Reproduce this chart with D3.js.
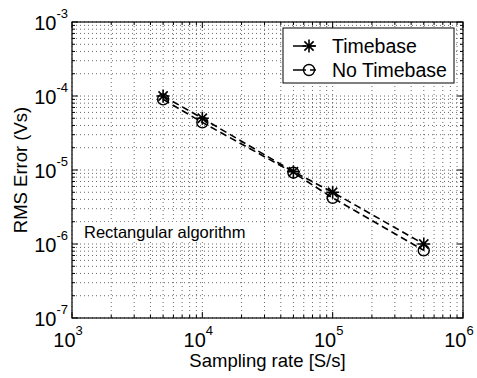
<!DOCTYPE html>
<html>
<head>
<meta charset="utf-8">
<script src="https://cdn.jsdelivr.net/npm/d3@7"></script>
<style>
  body { margin: 0; background: #fff; }
  svg text { font-family: "Liberation Sans", Arial, sans-serif; fill: #000; }
</style>
</head>
<body>
<svg id="chart" width="477" height="378"></svg>
<script>
// data
const rates = [5e3, 1e4, 5e4, 1e5, 5e5];
const timebase = [1.0e-4, 5.0e-5, 9.5e-6, 5.0e-6, 1.0e-6];
const noTimebase = [9.0e-5, 4.4e-5, 9.2e-6, 4.2e-6, 8.2e-7];
const xTickExps = [3, 4, 5, 6];
const yTickExps = [-3, -4, -5, -6, -7];
const seriesNames = ['Timebase', 'No Timebase'];

const margin = { top: 22, right: 14, bottom: 60, left: 72 };
const W = 477, H = 378;
const width = W - margin.left - margin.right;
const height = H - margin.top - margin.bottom;

const svg = d3.select('#chart');
const g = svg.append('g').attr('transform', `translate(${margin.left},${margin.top})`);

const x = d3.scaleLog().domain([1e3, 1e6]).range([0, width]);
const y = d3.scaleLog().domain([1e-7, 1e-3]).range([height, 0]);

// all log ticks (majors + minors)
const xAll = x.ticks();
const yAll = y.ticks();
const isMajor = v => Math.abs(Math.log10(v) - Math.round(Math.log10(v))) < 1e-9;

// Grid (dotted, majors and minors)
g.append('g').selectAll('line').data(xAll).join('line')
  .attr('x1', d => x(d)).attr('x2', d => x(d))
  .attr('y1', 0).attr('y2', height)
  .attr('stroke', '#444').attr('stroke-width', 0.8)
  .attr('stroke-dasharray', '1,3');
g.append('g').selectAll('line').data(yAll).join('line')
  .attr('y1', d => y(d)).attr('y2', d => y(d))
  .attr('x1', 0).attr('x2', width)
  .attr('stroke', '#444').attr('stroke-width', 0.8)
  .attr('stroke-dasharray', '1,3');

// Text annotation with white background
const ann = g.append('g');
const annText = ann.append('text')
  .attr('x', 12).attr('y', 216)
  .attr('font-size', 16.5)
  .text('Rectangular algorithm');
const bb = annText.node().getBBox();
ann.insert('rect', 'text')
  .attr('x', bb.x - 3).attr('y', bb.y - 1)
  .attr('width', bb.width + 6).attr('height', bb.height + 2)
  .attr('fill', '#fff');

// Box and inward ticks on all sides
const axG = g.append('g').attr('stroke', '#000').attr('stroke-width', 1);
const tickLen = d => isMajor(d) ? 6 : 3;
axG.selectAll('.tb').data(xAll).join('line')
  .attr('x1', d => x(d)).attr('x2', d => x(d))
  .attr('y1', height).attr('y2', d => height - tickLen(d));
axG.selectAll('.tt').data(xAll).join('line')
  .attr('x1', d => x(d)).attr('x2', d => x(d))
  .attr('y1', 0).attr('y2', d => tickLen(d));
axG.selectAll('.tl').data(yAll).join('line')
  .attr('y1', d => y(d)).attr('y2', d => y(d))
  .attr('x1', 0).attr('x2', d => tickLen(d));
axG.selectAll('.tr').data(yAll).join('line')
  .attr('y1', d => y(d)).attr('y2', d => y(d))
  .attr('x1', width).attr('x2', d => width - tickLen(d));
g.append('rect')
  .attr('x', 0).attr('y', 0).attr('width', width).attr('height', height)
  .attr('fill', 'none').attr('stroke', '#000').attr('stroke-width', 1.2);

// Tick labels: 10 with superscript exponent
const xl = g.append('g');
xTickExps.forEach(e => {
  const t = xl.append('text')
    .attr('x', x(Math.pow(10, e)) - 4)
    .attr('y', height + 29)
    .attr('text-anchor', 'middle')
    .attr('font-size', 20);
  t.append('tspan').text('10');
  t.append('tspan').attr('dy', -12).attr('font-size', 13).text(e);
});
const yl = g.append('g');
yTickExps.forEach(e => {
  const t = yl.append('text')
    .attr('x', -4)
    .attr('y', y(Math.pow(10, e)) + 8)
    .attr('text-anchor', 'end')
    .attr('font-size', 20);
  t.append('tspan').text('10');
  t.append('tspan').attr('dy', -12).attr('font-size', 13).text(e);
});

// Axis titles
svg.append('text')
  .attr('x', margin.left + width / 2).attr('y', 367)
  .attr('text-anchor', 'middle').attr('font-size', 18.5)
  .text('Sampling rate [S/s]');
svg.append('text')
  .attr('transform', `translate(27,${margin.top + height / 2}) rotate(-90)`)
  .attr('text-anchor', 'middle').attr('font-size', 18.5)
  .text('RMS Error (Vs)');

// Series
const line = d3.line().x(d => x(d[0])).y(d => y(d[1]));
const tbPts = rates.map((r, i) => [r, timebase[i]]);
const ntPts = rates.map((r, i) => [r, noTimebase[i]]);

const starPath = s => {
  const a = s * 0.7071;
  return `M${-s},0L${s},0M0,${-s}L0,${s}M${-a},${-a}L${a},${a}M${-a},${a}L${a},${-a}`;
};

function drawSeries(pts, marker) {
  g.append('path').datum(pts)
    .attr('d', line)
    .attr('fill', 'none').attr('stroke', '#000')
    .attr('stroke-width', 1.6).attr('stroke-dasharray', '7,4');
  const m = g.append('g').selectAll('g').data(pts).join('g')
    .attr('transform', d => `translate(${x(d[0])},${y(d[1])})`);
  if (marker === 'star') {
    m.append('path').attr('d', starPath(6.5))
      .attr('stroke', '#000').attr('stroke-width', 1.6).attr('fill', 'none');
  } else {
    m.append('circle').attr('r', 5.5)
      .attr('fill', 'none').attr('stroke', '#000').attr('stroke-width', 1.4);
  }
}
drawSeries(ntPts, 'circle');
drawSeries(tbPts, 'star');

// Legend
const lg = svg.append('g');
lg.append('rect')
  .attr('x', 283).attr('y', 28).attr('width', 171).attr('height', 55)
  .attr('fill', '#fff').attr('stroke', '#000').attr('stroke-width', 1);
seriesNames.forEach((name, i) => {
  const cy = 46 + i * 24;
  lg.append('line')
    .attr('x1', 293).attr('x2', 326).attr('y1', cy).attr('y2', cy)
    .attr('stroke', '#000').attr('stroke-width', 1.6).attr('stroke-dasharray', '13,4,6');
  const mk = lg.append('g').attr('transform', `translate(309,${cy})`);
  if (i === 0) {
    mk.append('path').attr('d', starPath(6.5))
      .attr('stroke', '#000').attr('stroke-width', 1.6).attr('fill', 'none');
  } else {
    mk.append('circle').attr('r', 5.5)
      .attr('fill', 'none').attr('stroke', '#000').attr('stroke-width', 1.4);
  }
  lg.append('text')
    .attr('x', 332).attr('y', cy + 7)
    .attr('font-size', 19.5)
    .text(name);
});
</script>
</body>
</html>
